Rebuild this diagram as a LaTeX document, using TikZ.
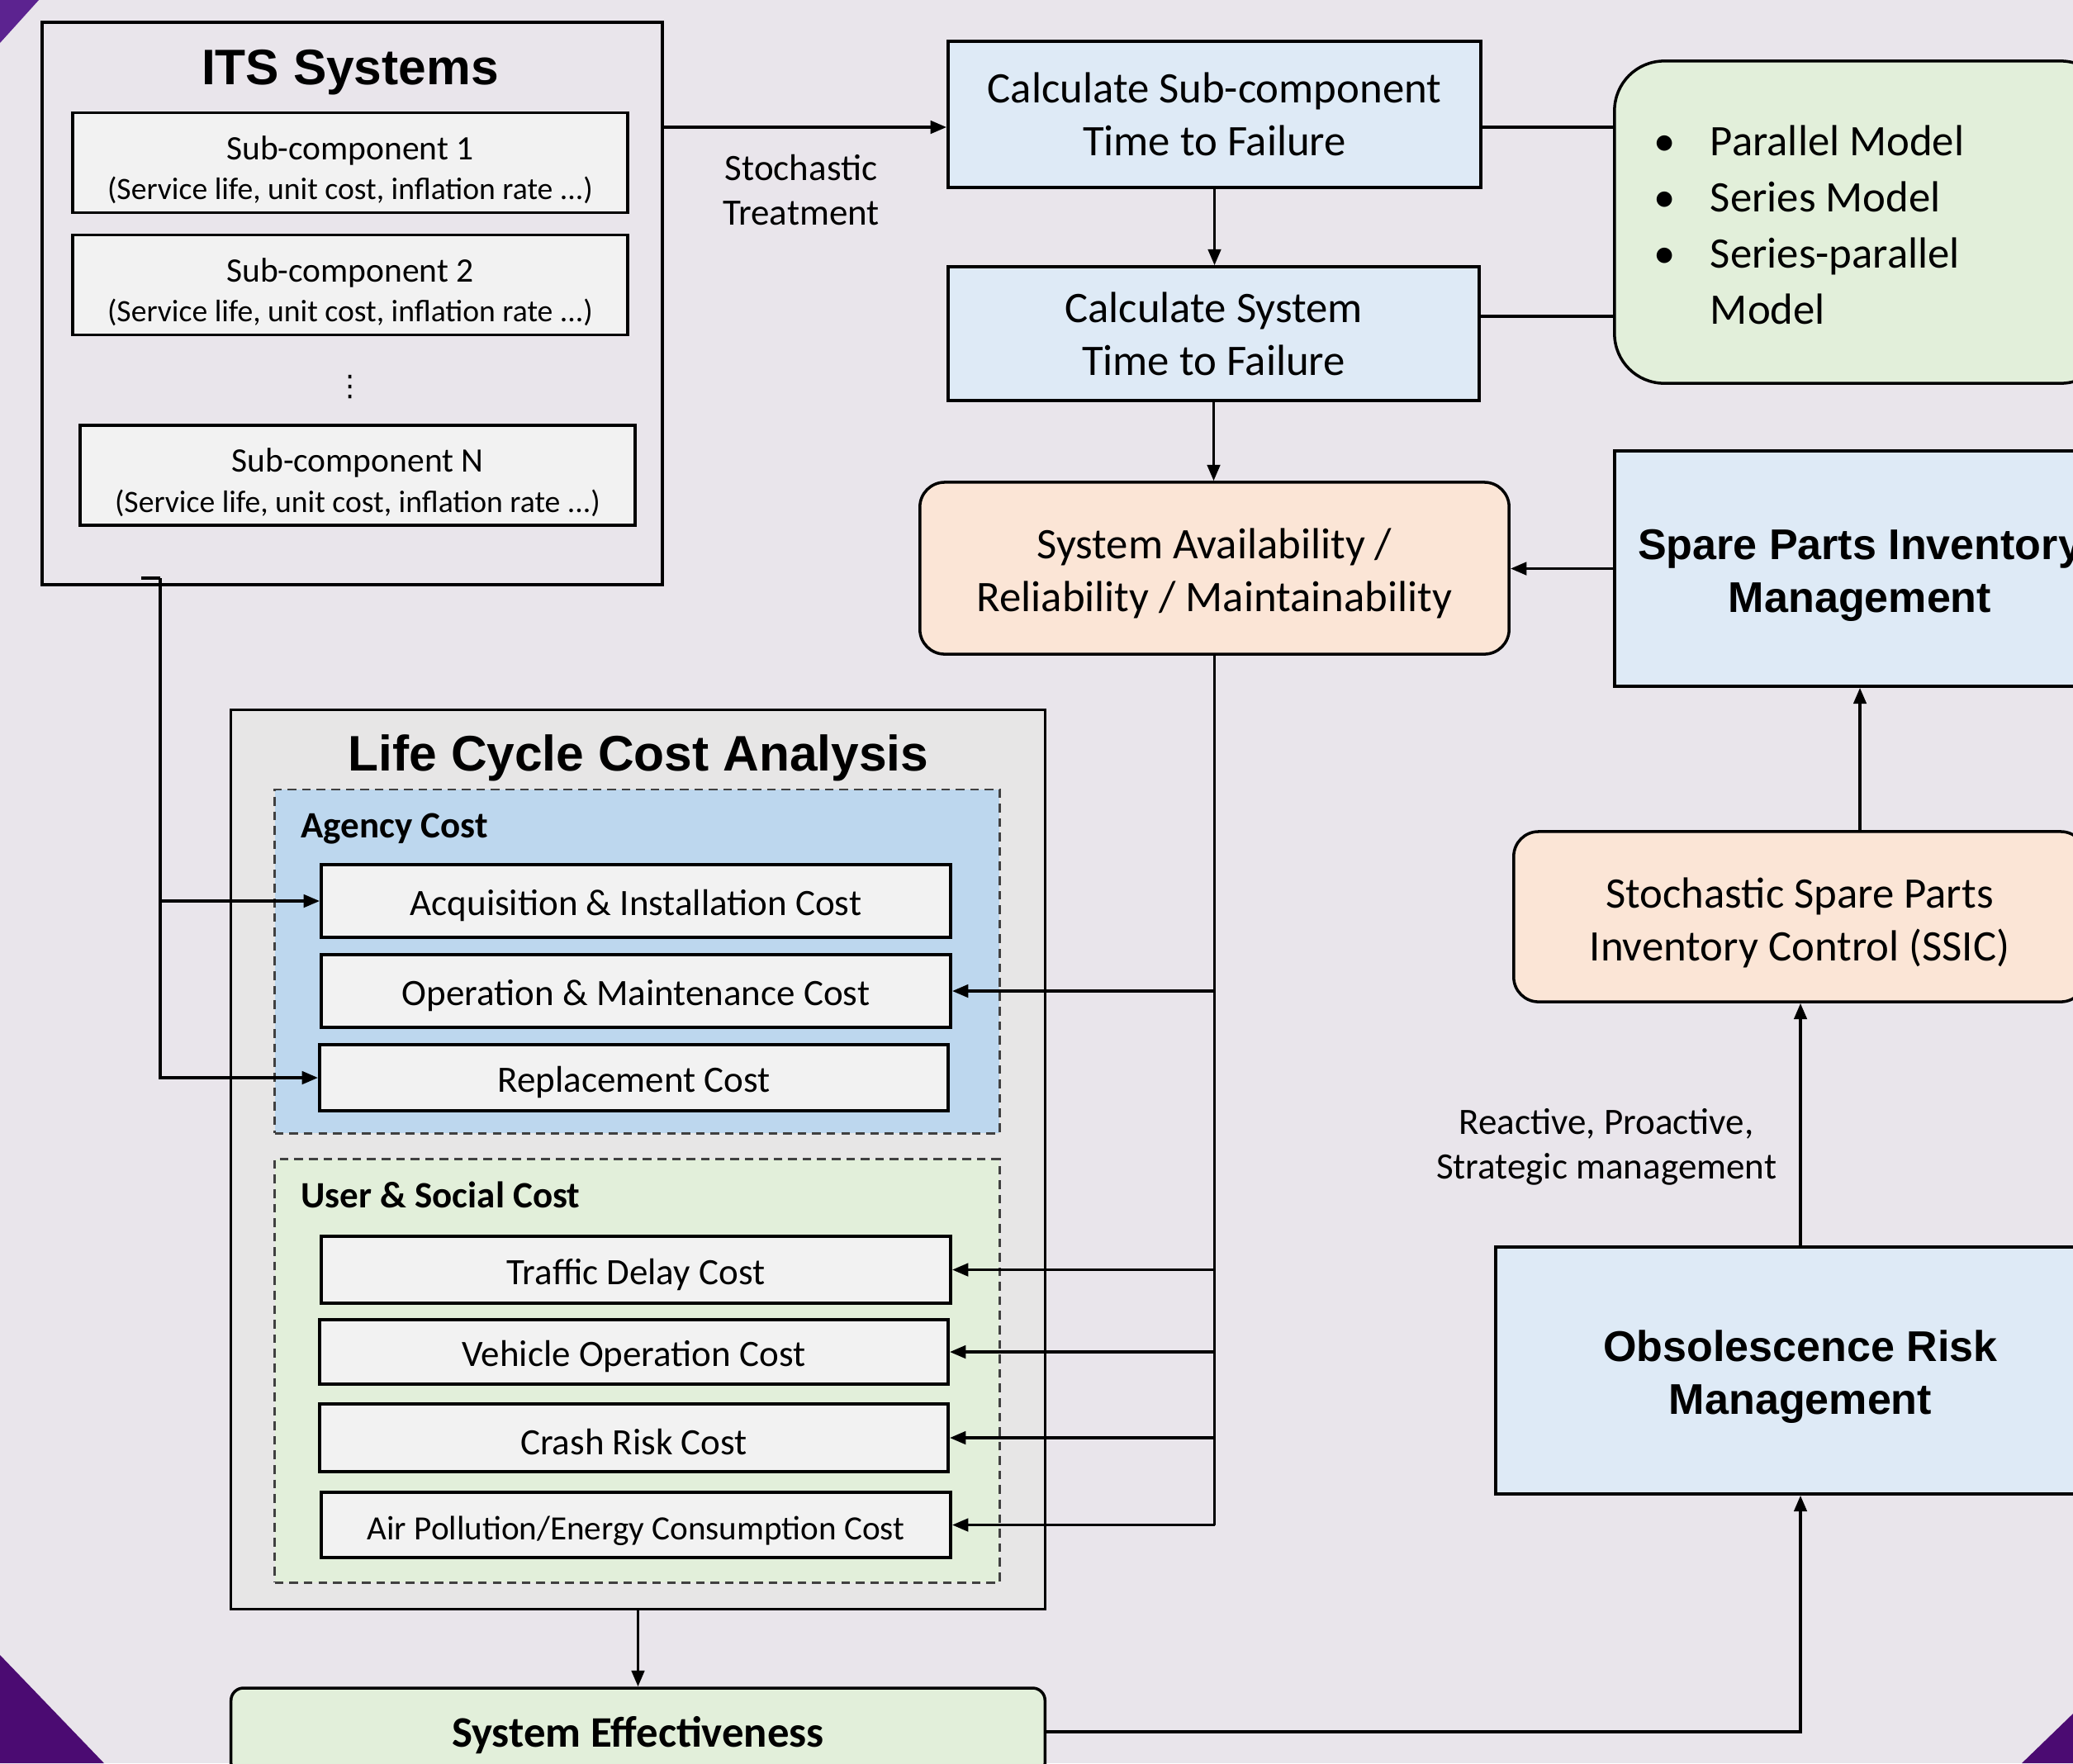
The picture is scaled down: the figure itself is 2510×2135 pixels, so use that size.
\documentclass[tikz,border=0pt]{standalone}
\usepackage{fontspec}
\setmainfont{Carlito}
\newfontfamily\arialfont{Liberation Sans}
\newfontfamily\symfont{DejaVu Sans}
\usetikzlibrary{arrows.meta}
\definecolor{bgcol}{HTML}{E9E5EB}
\definecolor{cornercol}{HTML}{4B0B72}
\definecolor{cornertop}{HTML}{5C2390}
\definecolor{paleblue}{HTML}{DEEAF6}
\definecolor{agencyblue}{HTML}{BDD7EE}
\definecolor{palegreen}{HTML}{E2EFDA}
\definecolor{peach}{HTML}{FBE5D6}
\definecolor{costgrey}{HTML}{F2F2F2}
\definecolor{lccagrey}{HTML}{E7E6E6}
\begin{document}
\begin{tikzpicture}[x=0.01cm,y=-0.01cm,
  >={Triangle[length=5.5pt,width=4.4pt]},
  conn/.style={line width=0.95pt},
  lowtext/.style={execute at begin node={\rule{0pt}{#1}}},
  box/.style={draw,line width=1pt,inner sep=0pt,align=center},
  bluebox/.style={box,fill=paleblue,font=\fontsize{15}{18.2}\selectfont},
  peachbox/.style={box,fill=peach,rounded corners=0.3cm,font=\fontsize{15}{18.2}\selectfont},
  costbox/.style={box,fill=costgrey,minimum width=7.62cm,lowtext=12pt,font=\fontsize{12.8}{15}\selectfont},
  subbox/.style={box,fill=costgrey,minimum width=6.72cm,minimum height=1.21cm,font=\fontsize{11.8}{13.7}\selectfont},
  dashbox/.style={draw=black!75,line width=0.8pt,dash pattern=on 3pt off 2pt,minimum width=8.77cm,inner sep=0pt},
  heading/.style={font=\arialfont\bfseries\fontsize{17.2}{20}\selectfont},
  boldtext/.style={font=\arialfont\bfseries\fontsize{14.8}{18.2}\selectfont},
  grouplabel/.style={anchor=west,font=\bfseries\fontsize{12.8}{15}\selectfont},
  note/.style={align=center,font=\fontsize{12.8}{15.5}\selectfont}]
\useasboundingbox (0,0) rectangle (2510,2135);
\fill[bgcol] (0,0) rectangle (2510,2135);
\clip (0,0) rectangle (2510,2135);
\fill[cornertop] (0,0) -- (47,0) -- (0,52) -- cycle;
\fill[cornercol] (0,2004) -- (126,2135) -- (0,2135) -- cycle;
\fill[cornercol] (2510,2075) -- (2510,2135) -- (2448,2135) -- cycle;

\node[box,minimum width=7.51cm,minimum height=6.81cm] (its) at (426.5,367.5) {};
\node[heading] (itstitle) at (424,88) {ITS Systems};
\node[subbox] (sub1) at (424,197) {\rule{0pt}{13.1pt}Sub-component 1\\{\fontsize{10.7}{13}\selectfont(Service life, unit cost, inflation rate ...)}};
\node[subbox] (sub2) at (424,345) {\rule{0pt}{13.1pt}Sub-component 2\\{\fontsize{10.7}{13}\selectfont(Service life, unit cost, inflation rate ...)}};
\node[font=\symfont\fontsize{10}{12}\selectfont] (vdots) at (424,469) {⋮};
\node[subbox] (subn) at (433,575.5) {\rule{0pt}{13.1pt}Sub-component N\\{\fontsize{10.7}{13}\selectfont(Service life, unit cost, inflation rate ...)}};

\node[bluebox,minimum width=6.45cm,minimum height=1.77cm] (calcsub) at (1470.5,138.5) {Calculate Sub-component\\Time to Failure};
\node[bluebox,minimum width=6.43cm,minimum height=1.62cm] (calcsys) at (1469.5,404) {Calculate System\\Time to Failure};
\node[box,fill=palegreen,rounded corners=0.6cm,minimum width=6cm,minimum height=3.9cm] (models) at (2255,269) {};
\node[anchor=west,align=left,font=\fontsize{15}{19.3}\selectfont] (modlist) at (1990,277) {\begin{tabular}{@{}l@{\hspace{12pt}}l@{}}
\textbullet & Parallel Model\\
\textbullet & Series Model\\
\textbullet & Series-parallel\\
 & Model
\end{tabular}};
\node[note] (sttext) at (970,230) {Stochastic\\Treatment};

\node[peachbox,minimum width=7.13cm,minimum height=2.08cm] (avail) at (1470.5,688) {\rule{0pt}{14.3pt}System Availability /\\Reliability / Maintainability};
\node[box,fill=paleblue,boldtext,minimum width=5.94cm,minimum height=2.85cm] (spare) at (2252,688.5) {\rule{0pt}{14.8pt}Spare Parts Inventory\\Management};
\node[peachbox,minimum width=6.92cm,minimum height=2.06cm] (ssic) at (2179,1110) {\rule{0pt}{14.7pt}Stochastic Spare Parts\\Inventory Control (SSIC)};
\node[note] (mgmttext) at (1945,1389) {Reactive, Proactive,\\Strategic management};
\node[box,fill=paleblue,boldtext,minimum width=7.38cm,minimum height=2.99cm] (obs) at (2180,1659.5) {\rule{0pt}{14.8pt}Obsolescence Risk\\Management};

\node[box,fill=lccagrey,minimum width=9.85cm,minimum height=10.88cm] (lcca) at (772.5,1404) {};
\node[heading] (lccatitle) at (773,918) {Life Cycle Cost Analysis};
\node[dashbox,fill=agencyblue,minimum height=4.16cm] (agency) at (771.5,1164) {};
\node[grouplabel] (agencylbl) at (352,1004) {Agency Cost};
\node[costbox,minimum height=0.88cm] (acq) at (770,1091) {Acquisition \& Installation Cost};
\node[costbox,minimum height=0.88cm] (om) at (770,1200) {Operation \& Maintenance Cost};
\node[costbox,minimum width=7.61cm,minimum height=0.8cm] (repl) at (767.5,1305) {Replacement Cost};
\node[dashbox,fill=palegreen,minimum height=5.12cm] (user) at (771.5,1660) {};
\node[grouplabel] (userlbl) at (352,1447) {User \& Social Cost};
\node[costbox,minimum height=0.81cm] (traffic) at (770,1537.5) {Traffic Delay Cost};
\node[costbox,minimum width=7.61cm,minimum height=0.78cm] (vehicle) at (767.5,1637) {Vehicle Operation Cost};
\node[costbox,minimum width=7.61cm,minimum height=0.82cm] (crash) at (767.5,1741) {Crash Risk Cost};
\node[costbox,minimum height=0.79cm,lowtext=11pt,font=\fontsize{11.7}{14}\selectfont] (air) at (770,1846.5) {Air Pollution/Energy Consumption Cost};
\node[box,fill=palegreen,rounded corners=0.15cm,minimum width=9.85cm,minimum height=1.06cm,lowtext=13pt,font=\bfseries\fontsize{15}{18}\selectfont] (syseff) at (772.5,2097) {System Effectiveness};

\coordinate (tline) at (0,154);
\coordinate (sline) at (0,383);
\draw[conn,->] (its.east |- tline) -- (calcsub.west |- tline);
\draw[conn] (calcsub.east |- tline) -- (models.west |- tline);
\draw[conn] (calcsys.east |- sline) -- (models.west |- sline);
\draw[conn,->] (calcsub.south) -- (calcsub.south |- calcsys.north);
\draw[conn,->] (calcsys.south) -- (calcsys.south |- avail.north);
\draw[conn,->] (spare.west) -- (spare.west -| avail.east);
\draw[conn,->] (ssic.north -| spare.south) -- (spare.south);
\draw[conn,->] (obs.north) -- (obs.north |- ssic.south);
\draw[conn,->] (syseff.east) -| (obs.south);
\draw[conn,->] (lcca.south) -- (syseff.north);
\draw[conn] (avail.south) -- (avail.south |- air.east);
\foreach \cost in {om,traffic,vehicle,crash,air}
  \draw[conn,->] (avail.south |- \cost.east) -- (\cost.east);
\coordinate (itsout) at (171,700);
\coordinate (lbend) at (194,700);
\draw[conn] (itsout) -- (lbend);
\draw[conn,->] (lbend) |- (repl.west);
\draw[conn,->] (lbend |- acq.west) -- (acq.west);
\end{tikzpicture}
\end{document}
